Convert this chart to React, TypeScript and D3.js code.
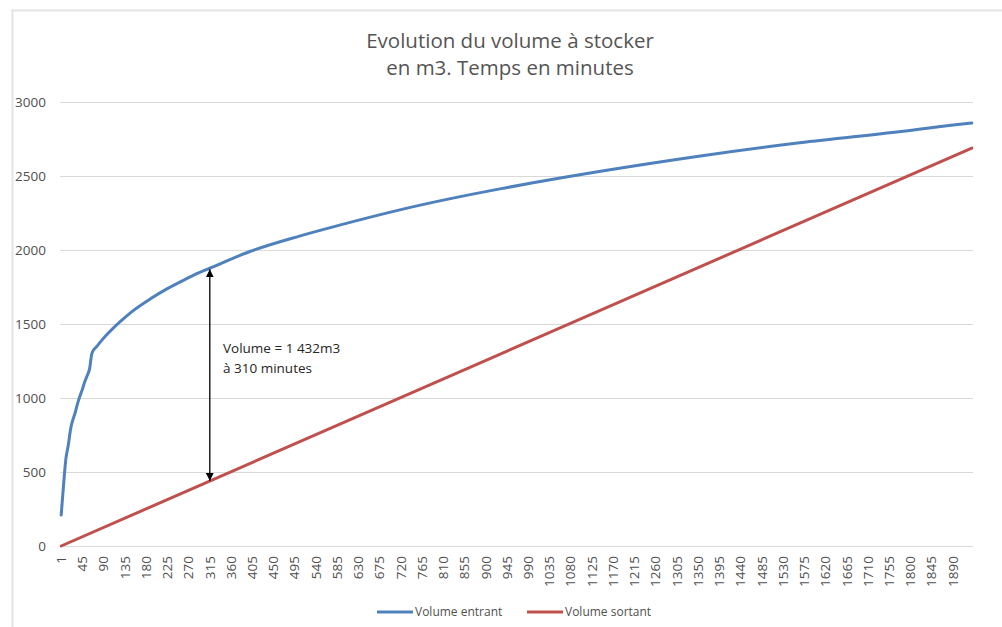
import React from 'react';
import * as d3 from 'd3';

// ---- data ----
const categories: number[] = [1, ...d3.range(5, 1931, 5)];
const labelEvery = 9;
const yTicks = [0, 500, 1000, 1500, 2000, 2500, 3000];

const entrantMinutes = [1, 5, 10, 15, 20, 30, 35, 40, 45, 50, 55, 60, 65, 70, 75, 85, 95, 125, 150, 190, 225, 260, 290, 315, 400, 505, 590, 720, 825, 930, 1070, 1140, 1355, 1565, 1780, 1915, 1930];
const entrantValues = [209, 412, 590, 680, 790, 905, 965, 1015, 1060, 1110, 1150, 1195, 1300, 1330, 1347, 1386, 1422, 1516, 1584, 1672, 1739, 1797, 1843, 1877, 1990, 2094, 2168, 2273, 2347, 2413, 2493, 2530, 2635, 2724, 2800, 2853, 2858];

const sortantMinutes = [1, 1930];
const sortantValues = [0, 2689];

const seriesNames = ['Volume entrant', 'Volume sortant'];
const seriesColors = ['#4F81BD', '#C0504D'];

const titleLines = ['Evolution du volume à stocker', 'en m3. Temps en minutes'];

const annotationMinute = 315;
const annotationTop = 1876;
const annotationBottom = 434;
const annotationLines = ['Volume = 1 432m3', 'à 310 minutes'];

// ---- layout ----
const W = 1002;
const H = 627;
const plot = { left: 60, right: 973, top: 102, bottom: 546 };
const FONT = '"Open Sans", "Noto Sans", sans-serif';
const TEXT = '#505050';

export default function App() {
  const x = d3.scaleBand<number>().domain(categories).range([plot.left, plot.right]).padding(0);
  const cx = (m: number) => (x(m) as number) + x.bandwidth() / 2;
  const y = d3.scaleLinear().domain([0, 3000]).range([plot.bottom, plot.top]);

  const line = d3
    .line<[number, number]>()
    .x((d) => cx(d[0]))
    .y((d) => y(d[1]))
    .curve(d3.curveMonotoneX);

  const entrant: [number, number][] = entrantMinutes.map((m, i) => [m, entrantValues[i]]);
  const sortant: [number, number][] = sortantMinutes.map((m, i) => [m, sortantValues[i]]);

  const labelCats = categories.filter((_, i) => i % labelEvery === 0);
  const ax = cx(annotationMinute);

  return (
    <svg width={W} height={H} style={{ position: 'absolute', left: 0, top: 0, background: '#fff' }} fontFamily={FONT}>
      <defs>
        <marker id="ah" viewBox="0 0 10 10" refX="10" refY="5" markerWidth="8" markerHeight="8" orient="auto-start-reverse" markerUnits="userSpaceOnUse">
          <path d="M0,0 L10,5 L0,10 z" fill="#000" />
        </marker>
      </defs>
      {/* outer frame */}
      <line x1={11} x2={W} y1={10.5} y2={10.5} stroke="#E3E3E3" strokeWidth={2} />
      <line x1={12.5} x2={12.5} y1={10} y2={H} stroke="#E3E3E3" strokeWidth={2} />

      {/* title */}
      {titleLines.map((t, i) => (
        <text key={t} x={510} y={48 + i * 27} textAnchor="middle" fontSize={20.5} fill="#555">
          {t}
        </text>
      ))}

      {/* gridlines */}
      {yTicks.map((v) => (
        <g key={v}>
          <line x1={plot.left} x2={plot.right} y1={Math.round(y(v)) + 0.5} y2={Math.round(y(v)) + 0.5} stroke="#D9D9D9" strokeWidth={1} />
          <text x={46} y={y(v)} dy="0.35em" textAnchor="end" fontSize={13.5} fill={TEXT}>
            {v}
          </text>
        </g>
      ))}

      {/* x labels */}
      {labelCats.map((c) => (
        <text key={c} transform={`translate(${cx(c)},556) rotate(-90)`} dy="0.35em" textAnchor="end" fontSize={13.5} fill={TEXT}>
          {c}
        </text>
      ))}

      {/* series */}
      <path d={line(sortant) || ''} fill="none" stroke={seriesColors[1]} strokeWidth={3} strokeLinecap="round" strokeLinejoin="round" />
      <path d={line(entrant) || ''} fill="none" stroke={seriesColors[0]} strokeWidth={3} strokeLinecap="round" strokeLinejoin="round" />

      {/* annotation */}
      <line x1={ax} x2={ax} y1={y(annotationTop) + 1} y2={y(annotationBottom) - 1} stroke="#000" strokeWidth={1.3} markerStart="url(#ah)" markerEnd="url(#ah)" />
      {annotationLines.map((t, i) => (
        <text key={t} x={223} y={353 + i * 20} fontSize={13.5} fill="#262626">
          {t}
        </text>
      ))}

      {/* legend */}
      {seriesNames.map((n, i) => {
        const lx = [377, 527][i];
        return (
          <g key={n}>
            <line x1={lx} x2={lx + 36} y1={612} y2={612} stroke={seriesColors[i]} strokeWidth={3} />
            <text x={lx + 38} y={612} dy="0.35em" fontSize={12} fill={TEXT}>
              {n}
            </text>
          </g>
        );
      })}
    </svg>
  );
}
